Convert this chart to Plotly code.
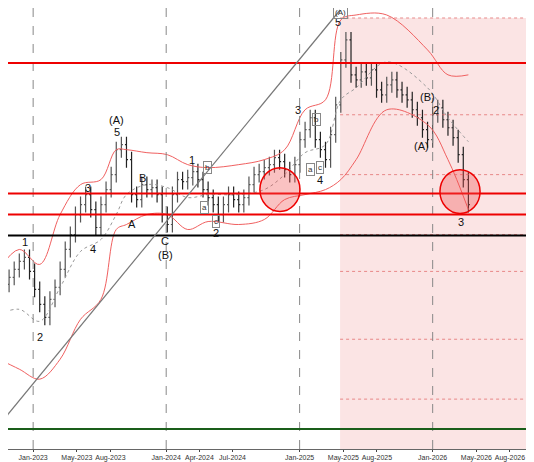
import datetime as dt
import plotly.graph_objects as go

# weekly bars, one every two weeks, starting end of Sep 2022
start = dt.date(2022, 9, 29)
closes = [160, 165, 172, 180, 188, 192, 178, 160, 145, 132, 150, 162, 180, 200, 215, 235, 245, 255,
          240, 222, 245, 260, 275, 300, 305, 290, 255, 250, 265, 260, 262, 255, 235, 225, 255, 270,
          268, 272, 278, 270, 260, 252, 245, 235, 245, 255, 250, 245, 252, 265, 275, 278, 282, 285,
          292, 288, 280, 275, 285, 310, 320, 332, 310, 300, 290, 315, 345, 390, 410, 375, 370, 378,
          372, 380, 360, 355, 365, 370, 360, 355, 350, 340, 332, 320, 310, 335, 342, 330, 322, 312,
          295, 270, 245]
band_idx = [0, 4, 8, 12, 16, 20, 23, 25, 29, 33, 37, 41, 47, 52, 56, 60, 64, 67, 70, 76, 84, 88, 92]
upper = [180, 200, 185, 235, 265, 270, 300, 300, 297, 295, 285, 282, 285, 290, 300, 340, 350, 430, 435, 435, 400, 375, 375]
lower = [90, 80, 70, 90, 130, 150, 220, 225, 235, 235, 220, 228, 225, 230, 250, 255, 260, 270, 290, 340, 325, 290, 240]
middle = [135, 140, 128, 162, 198, 210, 235, 255, 265, 262, 252, 255, 255, 260, 275, 297, 305, 350, 362, 388, 362, 332, 308]

levels_red = [387, 256, 235]
level_black = 214
level_green = 20
fib_levels = [432, 335, 275, 215, 178, 110, 50]

labels = [("1", 25, 207), ("2", 40, 112), ("3", 88, 262), ("4", 93, 200), ("(A)", 117, 330), ("5", 117, 318),
          ("B", 143, 272), ("A", 132, 226), ("C", 165, 208), ("(B)", 165, 194), ("1", 192, 290),
          ("2", 216, 216), ("3", 298, 340), ("4", 320, 270), ("5", 338, 428), ("(B)", 427, 353),
          ("2", 436, 340), ("(A)", 421, 304), ("3", 461, 228)]
circ_labels = [("b", 207, 282), ("a", 204, 242), ("c", 216, 228), ("b", 316, 330), ("a", 311, 280),
               ("c", 320, 282), ("A", 340, 437)]


def px_date(x):
    return dt.date(2023, 1, 1) + dt.timedelta(days=(x - 33) / 133 * 365)


dates = [start + dt.timedelta(weeks=2 * i) for i in range(len(closes))]
opens = [closes[0]] + closes[:-1]
highs = [max(o, c) + 8 for o, c in zip(opens, closes)]
lows = [min(o, c) - 8 for o, c in zip(opens, closes)]
bdates = [dates[i] for i in band_idx]

fig = go.Figure()
# page body has an 8px margin, so the plot starts at screen pixel 8
x0, x1 = px_date(8), px_date(534)
fig.add_shape(type="rect", x0=px_date(340), x1=x1, y0=0, y1=432, fillcolor="rgba(235,120,120,0.2)",
              line_width=0, layer="below")
for lv in fib_levels:
    fig.add_shape(type="line", x0=px_date(340), x1=x1, y0=lv, y1=lv, line=dict(color="#e06060", width=0.7, dash="dot"))
for d in ["2023-01-01", "2024-01-01", "2025-01-01", "2026-01-01"]:
    fig.add_vline(x=d, line=dict(color="#888", width=1, dash="dash"))
for lv in levels_red:
    fig.add_hline(y=lv, line=dict(color="#ee0000", width=2))
fig.add_hline(y=level_black, line=dict(color="black", width=2))
fig.add_hline(y=level_green, line=dict(color="#1a5e1a", width=2))
fig.add_shape(type="line", x0=px_date(0), y0=25, x1=px_date(340), y1=440, line=dict(color="#777", width=1.2))
for cx, cy in [(280, 260), (460, 258)]:
    fig.add_shape(type="circle", x0=px_date(cx - 20), x1=px_date(cx + 20), y0=cy - 22, y1=cy + 22,
                  fillcolor="rgba(240,80,80,0.35)", line=dict(color="#ee0000", width=1.5))

fig.add_trace(go.Scatter(x=bdates, y=upper, mode="lines", line=dict(color="#f06060", width=1, shape="spline")))
fig.add_trace(go.Scatter(x=bdates, y=lower, mode="lines", line=dict(color="#f06060", width=1, shape="spline")))
fig.add_trace(go.Scatter(x=bdates, y=middle, mode="lines", line=dict(color="#999", width=1, dash="dot", shape="spline")))
fig.add_trace(go.Ohlc(x=dates, open=opens, high=highs, low=lows, close=closes,
                      increasing_line_color="#555", decreasing_line_color="#222", line_width=1.2))

for t, x, y in labels:
    fig.add_annotation(x=px_date(x), y=y, text=t, showarrow=False, font=dict(size=11, color="#111"))
for t, x, y in circ_labels:
    fig.add_annotation(x=px_date(x), y=y, text=t.lower() if t != "A" else "(A)", showarrow=False,
                       font=dict(size=8, color="#333"), bordercolor="#888", borderwidth=1, borderpad=1)

fig.update_layout(
    width=526, height=454, margin=dict(l=0, r=0, t=0, b=13), showlegend=False,
    plot_bgcolor="white", paper_bgcolor="white",
    xaxis=dict(range=[x0, x1], rangeslider_visible=False, showgrid=False, tickformat="%b-%Y",
               tickvals=["2023-01-01", "2023-05-01", "2023-08-01", "2024-01-01", "2024-04-01", "2024-07-01",
                         "2025-01-01", "2025-05-01", "2025-08-01", "2026-01-01", "2026-05-01", "2026-08-01"],
               tickfont=dict(size=7, family="Arial", color="#333"), ticks="outside", ticklen=2,
               showline=True, linecolor="#666"),
    yaxis=dict(range=[0, 442], showticklabels=False, showgrid=False, zeroline=False),
    font=dict(family="Arial"),
)
fig.write_html("out.html")
